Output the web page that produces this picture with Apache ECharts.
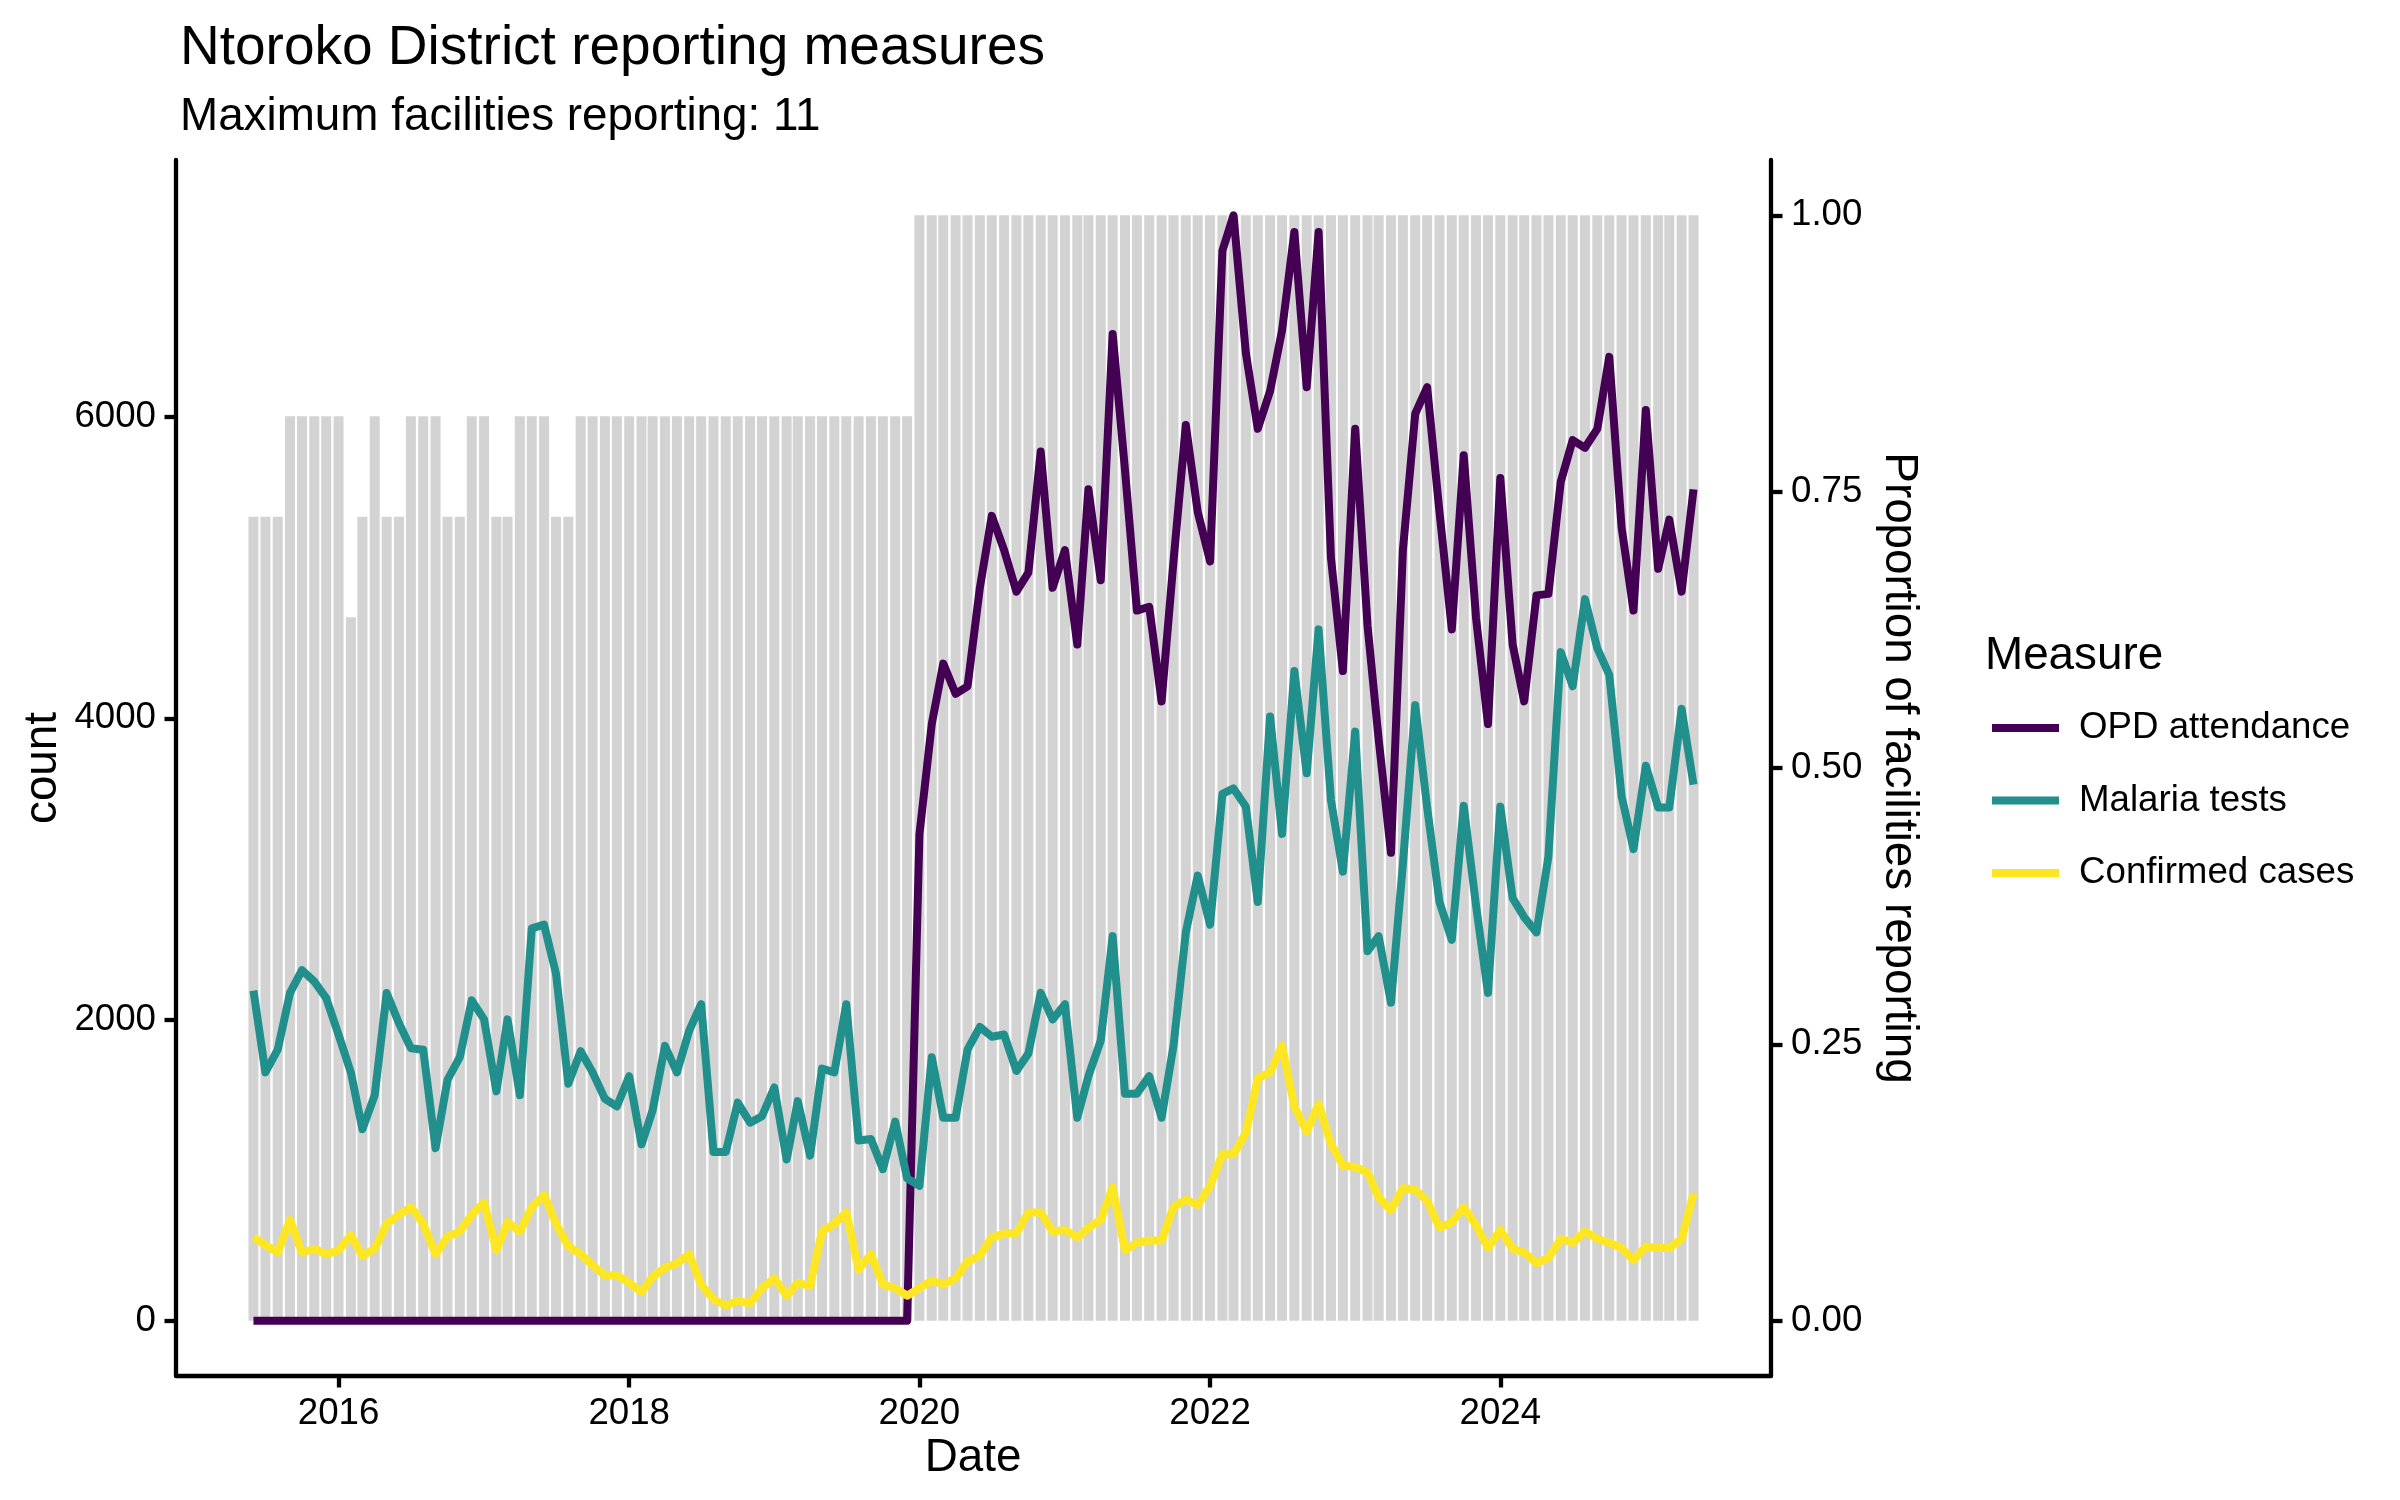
<!DOCTYPE html>
<html>
<head>
<meta charset="utf-8">
<script src="https://cdn.jsdelivr.net/npm/echarts@6/dist/echarts.min.js"></script>
<style>
html,body{margin:0;padding:0;background:#fff;}
#chart{width:2400px;height:1500px;}
</style>
</head>
<body>
<div id="chart"></div>
<script>
// ---- data ----
const titleText = "Ntoroko District reporting measures";
const maxFacilities = 11;
const subtitleText = "Maximum facilities reporting: " + maxFacilities;
const startYear = 2015, startMonth = 6, nMonths = 120; // Jun 2015 .. May 2025
const seriesNames = ["OPD attendance", "Malaria tests", "Confirmed cases"];
const seriesColors = ["#440154", "#21908C", "#FDE725"];
const xTickYears = [2016, 2018, 2020, 2022, 2024];
const leftTicks = [0, 2000, 4000, 6000];
const rightTicks = [0, 0.25, 0.5, 0.75, 1.0];

const facilitiesReporting = [
  8,8,8,9,9,9,9,9,7,8,
  9,8,8,9,9,9,8,8,9,9,
  8,8,9,9,9,8,8,9,9,9,
  9,9,9,9,9,9,9,9,9,9,
  9,9,9,9,9,9,9,9,9,9,
  9,9,9,9,9,11,11,11,11,11,
  11,11,11,11,11,11,11,11,11,11,
  11,11,11,11,11,11,11,11,11,11,
  11,11,11,11,11,11,11,11,11,11,
  11,11,11,11,11,11,11,11,11,11,
  11,11,11,11,11,11,11,11,11,11,
  11,11,11,11,11,11,11,11,11,11
];

const opdAttendance = [
  0,0,0,0,0,0,0,0,0,0,
  0,0,0,0,0,0,0,0,0,0,
  0,0,0,0,0,0,0,0,0,0,
  0,0,0,0,0,0,0,0,0,0,
  0,0,0,0,0,0,0,0,0,0,
  0,0,0,0,0,3230,3962,4364,4163,4213,
  4867,5345,5118,4842,4968,5772,4867,5118,4490,5521,
  4917,6552,5650,4716,4741,4113,5043,5948,5370,5043,
  7105,7341,6426,5923,6174,6576,7230,6199,7230,5068,
  4314,5923,4616,3862,3107,5118,6023,6199,5370,4591,
  5747,4666,3962,5596,4490,4113,4817,4827,5571,5848,
  5797,5923,6401,5269,4716,6048,4993,5320,4842,5521
];

const malariaTests = [
  2192,1649,1800,2177,2328,2253,2142,1900,1649,1272,
  1498,2177,1976,1810,1800,1146,1599,1750,2127,2001,
  1523,2001,1498,2605,2630,2303,1574,1790,1649,1473,
  1423,1624,1171,1398,1825,1649,1926,2102,1121,1121,
  1448,1315,1358,1549,1071,1458,1096,1674,1649,2102,
  1197,1207,1006,1322,945,895,1750,1348,1348,1800,
  1951,1886,1901,1659,1775,2177,2001,2102,1348,1624,
  1860,2554,1508,1508,1624,1348,1825,2579,2956,2630,
  3499,3535,3414,2780,4012,3233,4314,3635,4591,3459,
  2982,3912,2454,2554,2112,3032,4088,3409,2780,2529,
  3419,2755,2177,3414,2806,2680,2579,3082,4440,4213,
  4792,4465,4289,3484,3132,3686,3409,3409,4063,3560
];

const confirmedCases = [
  553,503,453,669,453,478,442,468,568,432,
  478,644,704,754,644,442,558,593,704,784,
  468,654,593,754,835,644,493,442,367,302,
  302,251,191,292,352,382,442,241,141,101,
  131,116,216,282,166,251,231,593,644,719,
  342,442,241,216,166,216,266,241,282,392,
  432,553,578,583,719,719,593,603,553,618,
  669,885,468,518,533,533,754,804,769,895,
  1106,1106,1247,1609,1649,1825,1423,1257,1438,1172,
  1031,1021,985,820,734,880,870,794,618,654,
  754,634,483,603,478,453,382,417,543,518,
  593,543,518,483,402,493,483,483,543,845
];

// ---- build ----
const months = [];
for (let i = 0; i < nMonths; i++) {
  months.push(new Date(startYear, startMonth - 1 + i, 1).getTime());
}
const pair = (arr) => arr.map((v, i) => [months[i], v]);
const proportion = facilitiesReporting.map(n => n / maxFacilities);
const M = Math.max(...opdAttendance);

const DAY = 86400000;
const monthLen = 30.44 * DAY;
const barW = 0.82 * monthLen;
const span = months[months.length - 1] - months[0];
const pad = 0.05 * (span + barW) + barW / 2;
const xMin = months[0] - pad, xMax = months[months.length - 1] + pad;
const xTickValues = xTickYears.map(y => new Date(y, 0, 1).getTime());

const FONT = "'Liberation Sans', Arial, Helvetica, sans-serif";
const AXW = 4.3, TICKLEN = 11.5;
const LINEW = 8;
const grid = {left: 176, top: 160, width: 1595, height: 1216};

const chart = echarts.init(document.getElementById('chart'), null, {renderer: 'canvas'});

const lineSeries = [opdAttendance, malariaTests, confirmedCases].map((arr, k) => ({
  name: seriesNames[k],
  type: 'line',
  yAxisIndex: 0,
  data: pair(arr),
  symbol: 'none',
  showSymbol: false,
  lineStyle: {color: seriesColors[k], width: LINEW, join: 'round', cap: 'butt'},
  itemStyle: {color: seriesColors[k]},
  z: 3,
  silent: true,
  animation: false
}));

const option = {
  animation: false,
  backgroundColor: '#ffffff',
  title: [
    {text: titleText, left: 180, top: 21, padding: 0,
     textStyle: {fontFamily: FONT, fontSize: 55, fontWeight: 'normal', color: '#000'}},
    {text: subtitleText, left: 180, top: 94, padding: 0,
     textStyle: {fontFamily: FONT, fontSize: 45.8, fontWeight: 'normal', color: '#000'}}
  ],
  grid: grid,
  legend: {
    data: seriesNames.map((n, k) => ({name: n, icon: 'rect', itemStyle: {color: seriesColors[k]}})),
    orient: 'vertical',
    left: 1992,
    top: 708,
    itemWidth: 67,
    itemHeight: 8,
    itemGap: 32.5,
    padding: 0,
    textStyle: {fontFamily: FONT, fontSize: 36.7, lineHeight: 40, color: '#000', padding: [0, 0, 0, 15]},
    selectedMode: false
  },
  xAxis: {
    type: 'value',
    min: xMin,
    max: xMax,
    axisLine: {show: true, onZero: false, lineStyle: {color: '#000', width: AXW}},
    axisTick: {show: true, length: TICKLEN, lineStyle: {color: '#000', width: AXW},
               customValues: xTickValues},
    axisLabel: {show: true, margin: 19, fontFamily: FONT, fontSize: 36.7, color: '#000',
                customValues: xTickValues,
                formatter: (v) => String(new Date(v + 5 * DAY).getFullYear())},
    splitLine: {show: false}
  },
  yAxis: [
    {
      type: 'value',
      position: 'left',
      min: -0.05 * M,
      max: 1.05 * M,
      axisLine: {show: true, onZero: false, lineStyle: {color: '#000', width: AXW}},
      axisTick: {show: true, length: TICKLEN, lineStyle: {color: '#000', width: AXW}, customValues: leftTicks},
      axisLabel: {show: true, margin: 20, fontFamily: FONT, fontSize: 36.7, color: '#000',
                  customValues: leftTicks, formatter: (v) => String(Math.round(v))},
      splitLine: {show: false}
    },
    {
      type: 'value',
      position: 'right',
      min: -0.05,
      max: 1.05,
      axisLine: {show: true, onZero: false, lineStyle: {color: '#000', width: AXW}},
      axisTick: {show: true, length: TICKLEN, lineStyle: {color: '#000', width: AXW}, customValues: rightTicks},
      axisLabel: {show: true, margin: 20, fontFamily: FONT, fontSize: 36.7, color: '#000',
                  customValues: rightTicks, formatter: (v) => v.toFixed(2)},
      splitLine: {show: false}
    }
  ],
  graphic: [
    {type: 'text', x: 43, y: 768, rotation: Math.PI / 2,
     style: {text: 'count', font: '45.8px ' + FONT, fill: '#000', textAlign: 'center', textVerticalAlign: 'middle'}},
    {type: 'text', x: 973, y: 1458,
     style: {text: 'Date', font: '45.8px ' + FONT, fill: '#000', textAlign: 'center', textVerticalAlign: 'middle'}},
    {type: 'text', x: 1899, y: 768, rotation: -Math.PI / 2,
     style: {text: 'Proportion of facilities reporting', font: '45.8px ' + FONT, fill: '#000', textAlign: 'center', textVerticalAlign: 'middle'}},
    {type: 'text', x: 1985, y: 656,
     style: {text: 'Measure', font: '45.8px ' + FONT, fill: '#000', textAlign: 'left', textVerticalAlign: 'middle'}}
  ],
  series: [
    {
      name: 'Proportion reporting',
      type: 'bar',
      yAxisIndex: 1,
      data: pair(proportion),
      barWidth: 10,
      itemStyle: {color: '#D3D3D3'},
      z: 1,
      silent: true
    }
  ].concat(lineSeries)
};

chart.setOption(option);
</script>
</body>
</html>
